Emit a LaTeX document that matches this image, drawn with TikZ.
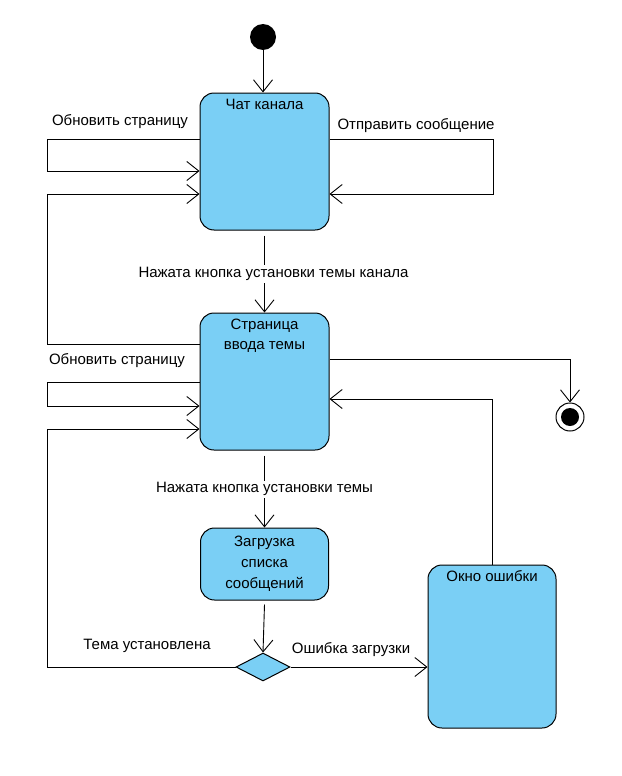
\documentclass[tikz,border=0pt]{standalone}
\usepackage{fontspec}
\setmainfont{Liberation Sans}
\usepackage{xcolor}
\usepackage{tikz}
\usetikzlibrary{shapes.geometric, arrows.meta}
\definecolor{statefill}{RGB}{122,207,245}
\tikzstyle{state} = [draw, fill=statefill, rounded corners=14pt, line width=1pt, inner sep=0pt]
\tikzstyle{arrow} = [line width=0.9pt,-{Straight Barb[length=12pt,width=19pt,line width=0.9pt]}]
\tikzstyle{line} = [line width=0.9pt]
\tikzstyle{lbl} = [fill=white, inner sep=2pt]

\begin{document}
\begin{tikzpicture}[x=1pt,y=1pt,font=\fontsize{15}{17}\selectfont]
			\useasboundingbox (0,0) rectangle (621,-776);
			
			% States:
			% Start and end points
			\node[circle, fill=black, minimum size=26pt, inner sep=0pt] (start) at (263,-37) {};
			\node[circle, draw, fill=white, line width=1pt, minimum size=28pt, inner sep=0pt] (end) at (570,-417) {};
			\node[circle, fill=black, minimum size=18pt, inner sep=0pt] (endcore) at (end) {};
			
			% Boxes, the title sits at the top of the box
			\node[state, minimum width=129pt, minimum height=137pt,
			      label={[anchor=north, yshift=-3pt]north:Чат канала}] (chat) at (264.5,-161.5) {};
			\node[state, minimum width=129pt, minimum height=137pt,
			      label={[anchor=north, yshift=-3pt, align=center, font=\fontsize{15}{20}\selectfont]north:Страница\\ввода темы}] (page) at (264.5,-381.5) {};
			\node[state, minimum width=128pt, minimum height=72pt, align=center,
			      font=\fontsize{15}{21}\selectfont] (load) at (264.5,-564) {Загрузка\\списка\\сообщений};
			\node[state, minimum width=128pt, minimum height=163pt,
			      label={[anchor=north, yshift=-2pt]north:Окно ошибки}] (err) at (492,-646.5) {};
			\node[diamond, draw, fill=statefill, line width=1pt, minimum width=54pt, minimum height=28pt, inner sep=0pt] (choice) at (263,-667) {};
			
			% Transitions:
			\draw [arrow] (start) -- (start |- chat.north);
			
			% Loops on the chat box
			\draw [arrow] (chat.west |- 0,-139) -- (47,-139) |- (chat.west |- 0,-171);
			\draw (120,-122) node {Обновить страницу};
			\draw [arrow] (chat.east |- 0,-139) -- (493,-139) |- (chat.east |- 0,-194);
			\draw (416,-126) node {Отправить сообщение};
			\draw [arrow] (page.west |- 0,-344) -- (47,-344) |- (chat.west |- 0,-194);
			
			\draw [arrow] ([yshift=-5pt]chat.south) -- node[lbl, xshift=9pt] {Нажата кнопка установки темы канала} (page.north);
			
			% Loops on the page box
			\draw [arrow] (page.west |- 0,-382) -- (47,-382) |- (page.west |- 0,-406);
			\draw (117,-361) node {Обновить страницу};
			\draw [arrow] (choice.west) -- (47,-667) |- (page.west |- 0,-429);
			\draw (147,-646) node {Тема установлена};
			
			\draw [arrow] (page.east |- 0,-359) -| (end.north);
			\draw [arrow] (err.north) |- (page.east |- 0,-399);
			
			\draw [arrow] ([yshift=-5pt]page.south) -- node[lbl, pos=0.47] {Нажата кнопка установки темы} (load.north);
			\draw [arrow] ([yshift=-4pt]load.south) -- (choice.north);
			\draw [arrow] (choice.east) -- (err.west |- choice.east);
			\draw (351,-650) node {Ошибка загрузки};
			
\end{tikzpicture}
\end{document}
